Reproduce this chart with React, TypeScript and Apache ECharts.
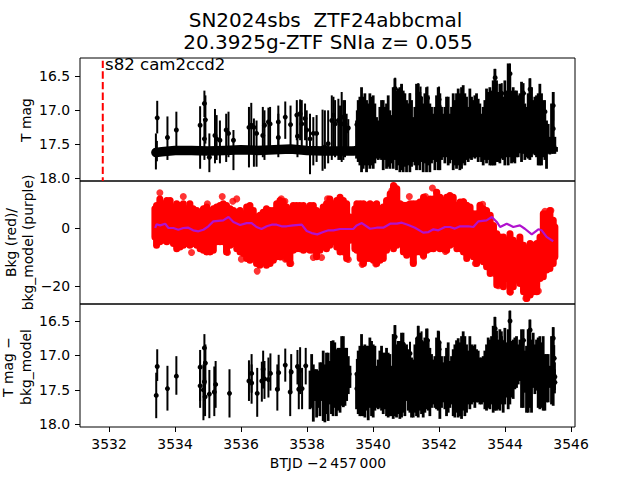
import React, { useEffect, useRef } from "react";
import * as echarts from "echarts";

const xTicks = [3532, 3534, 3536, 3538, 3540, 3542, 3544, 3546];
const magTicks = [16.5, 17, 17.5, 18];
const bkgTicks = [0, -20];
const discoveryLine = [[3531.81, 16.27], [3531.81, 18.04]];

const baseline = [[3533.42,17.62],[3533.6,17.61],[3534,17.59],[3534.5,17.59],[3535,17.6],[3535.5,17.59],[3536,17.58],[3536.5,17.59],[3537,17.58],[3537.5,17.57],[3538,17.59],[3538.5,17.6],[3539,17.6],[3539.4,17.6],[3539.6,17.58],[3540.5,17.58],[3541.5,17.57],[3542.5,17.57],[3543.5,17.57],[3544.5,17.56],[3545.42,17.55]];

const sparseMag = [[3533.46,17.11,16.86,17.34],[3533.42,17.59,17.34,17.87],[3533.45,17.61,17.45,17.75],[3533.77,17.40,17.09,17.73],[3534.04,17.29,17.02,17.56],[3534.76,17.22,16.94,17.86],[3534.89,16.90,16.71,17.10],[3534.92,17.14,16.78,17.49],[3534.89,17.42,17.12,17.73],[3535.04,17.69,17.34,17.91],[3535.21,17.37,16.98,17.78],[3535.26,17.42,17.07,17.73],[3535.36,17.44,17.15,17.78],[3535.62,17.34,17.02,17.69],[3535.55,17.29,17.05,17.76],[3535.77,17.44,17.29,17.88],[3536.24,17.25,16.95,17.84],[3536.31,17.22,16.89,17.64],[3536.39,17.25,17.12,17.83],[3536.47,17.34,17.15,17.83],[3536.66,17.37,16.95,17.69],[3536.71,17.22,17.00,17.73],[3536.83,17.17,16.96,17.54],[3536.88,17.20,16.95,17.64],[3537.13,17.40,16.93,17.64],[3537.13,17.17,17.05,17.69],[3537.34,17.10,16.87,17.42],[3537.50,17.21,16.93,17.54],[3537.69,17.07,16.85,17.44],[3537.71,17.38,17.10,17.69],[3537.79,17.05,16.84,17.44],[3537.84,17.20,16.85,17.54],[3537.94,17.12,16.90,17.44],[3537.99,17.29,17.00,17.59],[3538.09,17.42,17.05,17.94],[3538.19,17.34,17.10,17.81],[3538.29,17.34,17.07,17.76],[3538.47,17.56,16.99,17.89],[3538.54,17.54,17.00,17.86],[3538.64,17.49,17.00,17.78],[3538.75,17.15,16.78,17.73],[3538.80,17.07,16.80,17.61],[3538.85,17.20,16.85,17.69],[3538.95,17.15,16.83,17.73],[3539.00,17.2,16.93,17.73],[3539.05,17.1,16.73,17.76],[3539.10,17.2,16.85,17.73],[3539.15,17.2,16.85,17.69],[3539.20,17.3,17.05,17.64],[3539.25,17.26,17.13,17.54],[3540.67,16.68,16.52,16.8],[3540.87,16.75,16.62,16.9],[3541.12,16.93,16.75,17.1],[3541.37,16.76,16.6,16.9],[3541.44,16.82,16.65,17],[3541.65,16.82,16.65,17],[3542,16.84,16.65,17],[3542,16.94,16.75,17.1],[3543.7,16.52,16.39,16.7],[3543.7,16.62,16.5,16.8],[3543.9,16.75,16.6,16.9],[3544.15,16.46,16.31,16.62],[3544.56,16.75,16.6,16.9],[3544.76,16.69,16.53,16.85],[3545.46,16.93,16.73,17.15],[3545.46,17.27,17.0,17.45],[3545.21,17.02,16.85,17.2],[3539.51,17.21,17,17.4]];

const denseStart = 3539.5;
const denseStep = 0.0505;
const magTops = [17.15,16.85,16.80,16.66,16.80,16.75,16.85,16.90,16.75,16.80,16.78,16.90,17.10,17.15,16.95,16.85,16.85,16.95,16.90,16.78,17.0,17.07,16.66,16.53,16.71,16.68,16.66,16.61,16.71,16.75,16.85,16.90,16.75,16.85,17.10,16.95,16.61,16.61,16.73,16.80,16.90,16.75,16.66,16.78,16.90,16.95,17.05,16.95,16.78,16.66,16.75,16.95,17.05,16.95,16.80,16.80,17.05,16.95,16.75,16.85,16.75,16.68,16.75,16.66,16.63,16.75,16.80,16.95,16.68,16.80,16.85,16.78,16.75,16.83,16.90,17.05,16.95,16.85,16.68,16.73,16.66,16.71,16.56,16.39,16.56,16.73,16.61,16.73,16.80,16.56,16.71,16.31,16.44,16.71,16.66,16.71,16.71,16.78,16.75,16.58,16.71,16.90,16.95,16.75,16.53,16.66,16.85,16.80,16.78,16.75,16.61,16.75,16.85,17.0,17.15,17.2,17.39,16.90,16.73,17.39,17.54];
const magBottoms = [17.71,17.76,17.81,17.91,17.86,17.81,17.91,17.81,17.86,17.81,17.86,17.78,17.71,17.73,17.71,17.73,17.88,17.73,17.86,17.83,17.86,17.78,17.86,17.73,17.88,17.81,17.91,17.88,17.91,17.83,17.91,17.81,17.91,17.83,17.76,17.81,17.88,17.81,17.88,17.76,17.91,17.78,17.91,17.81,17.91,17.78,17.73,17.88,17.76,17.88,17.88,17.73,17.69,17.78,17.69,17.81,17.78,17.73,17.88,17.81,17.86,17.81,17.88,17.86,17.78,17.81,17.73,17.76,17.71,17.73,17.69,17.71,17.69,17.76,17.69,17.76,17.81,17.73,17.78,17.73,17.81,17.81,17.81,17.81,17.76,17.76,17.78,17.71,17.73,17.81,17.69,17.81,17.69,17.78,17.76,17.78,17.69,17.69,17.59,17.76,17.64,17.73,17.69,17.71,17.73,17.69,17.64,17.66,17.69,17.81,17.81,17.81,17.69,17.73,17.86,17.64,17.65,17.64,17.64,17.64,17.61];

const bkgColumns = [[3533.39,6.8,-3],[3533.44,7.9,-5.9],[3533.54,10.2,-4.7],[3533.65,8.5,-4.15],[3533.75,9.65,-4.7],[3533.85,9.65,-3.6],[3533.95,7.35,-5.3],[3534.05,8.5,-7.05],[3534.15,7.9,-6.45],[3534.25,8.5,-5.9],[3534.35,6.8,-5.3],[3534.45,8.5,-5.9],[3534.55,6.8,-5.3],[3534.66,6.2,-5.9],[3534.76,5.6,-7.05],[3534.86,6.8,-7.6],[3534.96,7.35,-8.2],[3535.06,5.6,-8.2],[3535.16,6.8,-7.6],[3535.26,7.35,-4.7],[3535.36,7.9,-4.7],[3535.46,8.5,-4.7],[3535.56,7.9,-8.2],[3535.67,6.8,-5.9],[3535.77,6.2,-5.3],[3535.87,5.6,-7.05],[3535.97,6.2,-8.2],[3536.07,5.05,-8.75],[3536.17,7.35,-10.5],[3536.27,7.9,-11.05],[3536.37,6.2,-9.9],[3536.47,3.9,-12.2],[3536.57,4.5,-12.8],[3536.67,5.6,-11.05],[3536.77,6.8,-12.8],[3536.88,6.2,-12.2],[3536.98,6.2,-11.05],[3537.08,8.5,-9.9],[3537.18,9.65,-9.9],[3537.28,9.1,-8.2],[3537.38,7.35,-10.5],[3537.48,6.2,-12.2],[3537.58,7.9,-7.6],[3537.68,7.9,-7.05],[3537.78,7.9,-7.05],[3537.89,7.9,-7.6],[3537.99,6.8,-7.05],[3538.09,7.9,-7.6],[3538.19,7.9,-7.6],[3538.29,6.2,-9.9],[3538.39,5.6,-7.6],[3538.49,7.35,-6.45],[3538.59,8.5,-7.05],[3538.69,10.2,-5.9],[3538.79,8.5,-4.7],[3538.90,9.65,-6.45],[3539.00,10.8,-8.2],[3539.10,9.65,-8.2],[3539.20,8.5,-10.5],[3539.30,3.9,-4.15],[3539.45,6.8,-7.05],[3539.51,8.5,-7.6],[3539.61,8.5,-10.5],[3539.71,8.5,-12.2],[3539.81,8,-10.5],[3539.91,8.5,-10.5],[3540.01,8,-11.05],[3540.11,8.5,-12.2],[3540.21,6.8,-11.05],[3540.31,7.35,-10.5],[3540.41,9.65,-7.6],[3540.52,12,-5.3],[3540.62,14.8,-7.05],[3540.72,13.7,-5.9],[3540.82,8.5,-5.3],[3540.92,8,-8.2],[3541.02,8,-9.35],[3541.12,8.5,-7.6],[3541.22,8.5,-12.2],[3541.32,8.5,-8.2],[3541.42,9.1,-8.2],[3541.53,10.8,-9.35],[3541.63,9.65,-7.6],[3541.73,10.2,-7.05],[3541.83,10.2,-7.05],[3541.93,12.5,-6.45],[3542.03,10.8,-7.05],[3542.13,9.65,-7.05],[3542.23,10.8,-7.6],[3542.33,11.4,-5.9],[3542.43,10.8,-5.3],[3542.54,8,-7.05],[3542.64,9.1,-7.05],[3542.74,9.1,-8.2],[3542.84,8,-10.5],[3542.94,7.35,-8.75],[3543.04,5.05,-9.9],[3543.14,5.05,-12.2],[3543.24,8,-9.9],[3543.34,6.8,-11.6],[3543.44,6.2,-13.35],[3543.55,4.5,-15.65],[3543.65,1,-15.1],[3543.75,-1.85,-19.7],[3543.85,-3,-19.1],[3543.95,-3,-20.25],[3544.05,-4.15,-17.4],[3544.15,-1.85,-22],[3544.25,-4.15,-20.25],[3544.35,-5.3,-17.95],[3544.45,-3,-19.1],[3544.56,-5.9,-22],[3544.66,-7.6,-24.3],[3544.76,-5.3,-23.1],[3544.86,-5.9,-22],[3544.96,-5.3,-22],[3545.06,-3,-17.4],[3545.16,5.05,-16.8],[3545.26,5.05,-14.5],[3545.36,6.2,-13.9],[3545.46,2.75,-12.2],[3545.51,0.45,-9.9]];

const bkgOutliers = [[3533.54,12.3],[3534.25,11],[3535.43,11],[3535.75,9.4],[3535.87,10.2],[3534.5,-8.4],[3535.59,-8.4],[3536.01,-10.7],[3536.49,-14.85],[3537.51,-12.2],[3537.34,-10.7],[3537.2,-9.9],[3538.19,-10.1],[3538.44,-10.1],[3537.22,10.2],[3537.33,9.4],[3538.62,10.2],[3534.98,8.5],[3540.65,14.5],[3540.57,13.1],[3541.8,14],[3541.92,12.5],[3541.1,11],[3541.59,11],[3542.74,9.3],[3543.32,8.3],[3541.22,-11.9],[3541.53,-9.7],[3542.19,-8],[3539.67,-12.5],[3540.08,-12.4],[3539.25,-10.8],[3543.1,-12.2],[3543.68,-15.65],[3543.8,-19.9],[3544.16,-22.2],[3545.01,-21.75],[3544.63,-24.3],[3545.39,6.2],[3545.21,5.9]];

const bkgModel = [[3533.40,0.1],[3533.44,1.4],[3533.55,1.0],[3533.70,1.6],[3533.80,0.1],[3533.95,0.1],[3534.10,-0.5],[3534.25,0.1],[3534.40,0.2],[3534.55,-0.7],[3534.71,-1.05],[3534.86,-0.5],[3535.01,0.7],[3535.16,2.4],[3535.31,2.6],[3535.46,2.75],[3535.62,3.9],[3535.77,2.2],[3535.97,1.15],[3536.17,1.8],[3536.32,1.8],[3536.47,0.45],[3536.62,-0.25],[3536.78,0.7],[3536.93,1.25],[3537.08,1.25],[3537.23,0.7],[3537.38,0.7],[3537.58,1.0],[3537.84,1.25],[3537.99,-0.95],[3538.14,-1.65],[3538.31,-2.1],[3538.49,-1.3],[3538.65,-0.7],[3538.80,-0.7],[3539.00,-0.25],[3539.40,-0.25],[3539.50,1.0],[3539.66,1.8],[3539.91,-0.15],[3540.11,0.2],[3540.31,0.2],[3540.52,1.6],[3540.72,1.6],[3540.87,1.95],[3541.07,1.15],[3541.27,0.2],[3541.52,-1.5],[3541.68,-1.3],[3541.83,-0.35],[3541.98,-0.7],[3542.18,0.45],[3542.33,0.45],[3542.48,-0.1],[3542.64,0.7],[3542.89,0.7],[3543.04,0.45],[3543.19,2.4],[3543.44,2.75],[3543.60,3.9],[3543.75,2.2],[3543.85,0.45],[3544.05,1.6],[3544.25,0.45],[3544.45,1.0],[3544.60,-0.15],[3544.81,-2.1],[3545.01,-0.35],[3545.11,-0.7],[3545.26,-3],[3545.46,-4.5]];

const sparseSub = [[3533.43,17.58,17.25,17.91],[3533.46,17.16,16.91,17.37],[3533.77,17.48,17.15,17.80],[3534.04,17.30,17.01,17.57],[3534.76,17.17,16.92,17.76],[3534.76,17.44,17.13,17.66],[3534.89,16.89,16.69,17.12],[3534.92,17.11,16.84,17.42],[3534.89,17.38,17.08,17.66],[3534.86,17.50,17.13,17.94],[3534.91,17.60,17.32,17.88],[3535.04,17.56,17.21,17.91],[3535.19,17.53,17.16,17.88],[3535.23,17.42,17.08,17.76],[3535.65,17.55,17.20,17.90],[3536.24,17.37,17.07,17.66],[3536.32,17.26,16.98,17.54],[3536.32,17.40,17.13,17.70],[3536.49,17.55,17.18,17.89],[3536.63,17.37,17.09,17.67],[3536.67,17.20,16.93,17.48],[3536.71,17.34,17.08,17.63],[3536.83,17.35,17.03,17.61],[3536.89,17.26,16.97,17.51],[3537.10,17.49,17.13,17.80],[3537.14,17.25,16.99,17.51],[3537.34,17.14,16.90,17.38],[3537.49,17.53,17.20,17.88],[3537.52,17.24,16.98,17.51],[3537.71,17.16,16.92,17.42],[3537.75,17.49,17.18,17.78],[3537.79,17.22,16.88,17.56],[3537.85,17.48,17.18,17.78],[3537.96,17.15,16.89,17.42],[3539.28,17.27,17.15,17.47],[3540.67,16.73,16.56,16.9],[3541.12,16.97,16.8,17.15],[3541.37,16.75,16.57,16.95],[3541.47,16.81,16.65,17],[3541.65,16.78,16.61,16.95],[3542,16.81,16.65,17],[3542,16.91,16.75,17.1],[3543.7,16.61,16.44,16.8],[3543.7,16.73,16.55,16.9],[3543.9,16.8,16.65,17],[3544.15,16.5,16.35,16.66],[3544.56,16.78,16.62,16.95],[3544.76,16.63,16.48,16.8],[3545.46,16.75,16.59,16.95],[3545.49,17.04,16.85,17.2],[3545.51,17.31,17.1,17.5],[3545.51,17.39,17.2,17.55],[3539.51,17.27,17.05,17.5],[3539.51,17.48,17.25,17.7],[3540.92,16.84,16.67,17]];

const clusterSub = [[3538.09,17.22,17.78],[3538.14,16.98,17.76],[3538.19,17.13,17.96],[3538.24,17.20,17.66],[3538.29,17.20,17.90],[3538.34,17.22,17.76],[3538.39,17.10,17.88],[3538.44,17.10,17.66],[3538.49,16.93,17.95],[3538.54,17.13,17.97],[3538.59,16.96,17.85],[3538.64,16.96,17.95],[3538.69,17.08,17.71],[3538.74,16.79,17.85],[3538.79,16.78,17.88],[3538.84,16.81,17.76],[3538.89,16.91,17.88],[3538.94,16.89,17.80],[3539.00,16.89,17.83],[3539.05,16.72,17.73],[3539.10,16.72,17.75],[3539.15,16.89,17.73],[3539.20,16.89,17.66],[3539.25,17.01,17.56],[3539.30,17.15,17.47]];

const subTops = [17.27,16.93,16.86,16.69,16.86,16.84,16.86,16.86,16.74,16.79,16.84,16.86,17.15,17.06,16.93,16.86,16.96,16.96,16.89,16.96,16.98,17.15,16.69,16.56,16.84,16.79,16.79,16.67,16.81,16.86,16.84,16.91,16.96,17.03,17.06,16.84,16.74,16.57,16.67,16.84,16.81,16.74,16.61,16.77,16.89,16.98,17.06,17.01,16.74,16.64,16.81,17.01,17.10,17.01,16.89,16.81,17.08,17.01,16.91,16.84,16.78,16.75,16.81,16.72,16.65,16.72,16.84,16.93,16.72,16.84,16.86,16.84,16.91,16.93,17.03,17.03,17.01,16.93,16.84,16.74,16.77,16.72,16.57,16.44,16.64,16.77,16.62,16.72,16.79,16.60,16.81,16.62,16.35,16.79,16.77,16.74,16.72,16.84,16.77,16.62,16.77,16.93,16.86,16.62,16.48,16.77,16.67,16.84,16.77,16.74,16.72,16.81,16.72,16.98,16.98,16.98,17.15,16.72,16.59,17.27];
const subBottoms = [17.78,17.85,17.88,17.88,17.88,17.90,17.80,17.94,17.76,17.88,17.90,17.80,17.76,17.78,17.76,17.80,17.85,17.78,17.88,17.90,17.88,17.88,17.92,17.88,17.90,17.85,17.92,17.90,17.83,17.88,17.66,17.80,17.83,17.90,17.90,17.83,17.88,17.90,17.80,17.85,17.90,17.83,17.78,17.80,17.88,17.76,17.71,17.76,17.78,17.80,17.92,17.76,17.68,17.78,17.88,17.83,17.76,17.71,17.88,17.90,17.83,17.90,17.88,17.92,17.80,17.88,17.83,17.71,17.78,17.71,17.68,17.76,17.68,17.68,17.71,17.71,17.68,17.78,17.80,17.76,17.78,17.71,17.83,17.80,17.80,17.78,17.80,17.71,17.83,17.71,17.61,17.78,17.71,17.61,17.63,17.49,17.47,17.42,17.37,17.76,17.76,17.54,17.83,17.83,17.76,17.83,17.47,17.56,17.51,17.76,17.78,17.76,17.80,17.80,17.68,17.68,17.47,17.71,17.73,17.42];

const FONT = "DejaVu Sans";
const GRID_LEFT = 80;
const GRID_RIGHT = 65;
const PANEL_H = 123;
const PANEL_TOPS = [58, 181, 304];

const toColumns = (tops: number[], bottoms: number[]) =>
  tops.map((top, i) => [denseStart + i * denseStep, top, bottoms[Math.min(i, bottoms.length - 1)]]);

const columnRender = (color: string, width: number, cap: string) => (_p: any, api: any) => {
  const a = api.coord([api.value(0), api.value(1)]);
  const b = api.coord([api.value(0), api.value(2)]);
  return {
    type: "line",
    shape: { x1: a[0], y1: a[1], x2: b[0], y2: b[1] },
    style: { stroke: color, lineWidth: width, lineCap: cap },
  };
};

const pointRender = (_p: any, api: any) => {
  const c = api.coord([api.value(0), api.value(1)]);
  const a = api.coord([api.value(0), api.value(2)]);
  const b = api.coord([api.value(0), api.value(3)]);
  return {
    type: "group",
    children: [
      { type: "line", shape: { x1: a[0], y1: a[1], x2: b[0], y2: b[1] }, style: { stroke: "#000", lineWidth: 2 } },
      { type: "circle", shape: { cx: c[0], cy: c[1], r: 2.5 }, style: { fill: "#000" } },
    ],
  };
};

const custom = (idx: number, data: number[][], renderItem: any, z = 2) => ({
  type: "custom",
  xAxisIndex: idx,
  yAxisIndex: idx,
  data,
  renderItem,
  clip: true,
  silent: true,
  z,
});

const yAxisFor = (idx: number, min: number, max: number, ticks: number[], inverse: boolean, fmt: (v: number) => string) => ({
  type: "value",
  gridIndex: idx,
  min,
  max,
  inverse,
  splitLine: { show: false },
  axisLine: { show: false },
  axisTick: { show: true, length: 5, customValues: ticks, lineStyle: { color: "#000", width: 1 } },
  axisLabel: { show: true, customValues: ticks, formatter: fmt, color: "#000", fontFamily: FONT, fontSize: 13.9, margin: 10 },
});

const fmtMag = (v: number) => v.toFixed(1);
const fmtBkg = (v: number) => (v < 0 ? "\u2212" + Math.abs(v) : String(v));

const axisText = (x: number, y: number, text: string, lineHeight = 17) => ({
  type: "text",
  x,
  y,
  rotation: Math.PI / 2,
  style: { text, fontFamily: FONT, fontSize: 13.9, lineHeight, fill: "#000", align: "center", verticalAlign: "middle" },
});

const topText = (x: number, y: number, text: string, fontSize: number, align = "center") => ({
  type: "text",
  x,
  y,
  style: { text, fontFamily: FONT, fontSize, fill: "#000", align, verticalAlign: "middle" },
});

export default function App() {
  const ref = useRef<HTMLDivElement>(null);
  useEffect(() => {
    document.body.style.margin = "0";
    const chart = echarts.init(ref.current!, undefined, { renderer: "svg" });
    chart.setOption({
      animation: false,
      backgroundColor: "#fff",
      grid: PANEL_TOPS.map((top) => ({
        left: GRID_LEFT,
        right: GRID_RIGHT,
        top,
        height: PANEL_H,
        show: true,
        borderColor: "#000",
        borderWidth: 1,
        backgroundColor: "transparent",
      })),
      xAxis: [0, 1, 2].map((i) => ({
        type: "value",
        gridIndex: i,
        min: 3531.12,
        max: 3546.12,
        splitLine: { show: false },
        axisLine: { show: false },
        axisTick: i === 2 ? { show: true, length: 5, customValues: xTicks, lineStyle: { color: "#000", width: 1 } } : { show: false },
        axisLabel:
          i === 2
            ? { show: true, customValues: xTicks, formatter: (v: number) => String(v), color: "#000", fontFamily: FONT, fontSize: 13.9, margin: 10 }
            : { show: false },
      })),
      yAxis: [
        yAxisFor(0, 16.23, 18.04, magTicks, true, fmtMag),
        yAxisFor(1, -26.25, 16.4, bkgTicks, false, fmtBkg),
        yAxisFor(2, 16.253, 18.038, magTicks, true, fmtMag),
      ],
      series: [
        {
          type: "line",
          xAxisIndex: 0,
          yAxisIndex: 0,
          data: discoveryLine,
          symbol: "none",
          lineStyle: { color: "#ff0000", width: 2, type: [7.4, 3.2] },
          silent: true,
          z: 1,
        },
        {
          type: "line",
          xAxisIndex: 0,
          yAxisIndex: 0,
          data: baseline,
          symbol: "none",
          lineStyle: { color: "#000", width: 9.5, cap: "round", join: "round" },
          silent: true,
        },
        custom(0, toColumns(magTops, magBottoms), columnRender("#000", 2.8, "butt")),
        custom(0, sparseMag, pointRender),
        custom(1, bkgColumns, columnRender("#ff0000", 7, "round")),
        {
          type: "scatter",
          xAxisIndex: 1,
          yAxisIndex: 1,
          data: bkgOutliers,
          symbolSize: 7,
          itemStyle: { color: "#ff0000" },
          silent: true,
          z: 2,
        },
        {
          type: "line",
          xAxisIndex: 1,
          yAxisIndex: 1,
          data: bkgModel,
          symbol: "none",
          lineStyle: { color: "#b012cf", width: 2.2 },
          silent: true,
          z: 3,
        },
        custom(2, clusterSub, columnRender("#000", 2.8, "butt")),
        custom(2, toColumns(subTops, subBottoms), columnRender("#000", 2.8, "butt")),
        custom(2, sparseSub, pointRender),
      ],
      graphic: [
        topText(325.5, 20, "SN2024sbs  ZTF24abbcmal", 20),
        topText(328, 42, "20.3925g-ZTF SNIa z= 0.055", 20),
        topText(105, 64, "s82 cam2ccd2", 16.6, "left"),
        axisText(26, 120, "T mag"),
        axisText(19.5, 242.5, "Bkg (red)/\nbkg_model (purple)"),
        axisText(17, 367, "T mag \u2212\nbkg_model", 18),
        topText(328, 463, "BTJD \u22122\u2009457\u2009000", 13.9),
      ],
    });
    return () => chart.dispose();
  }, []);
  return <div ref={ref} style={{ width: 640, height: 480 }} />;
}
